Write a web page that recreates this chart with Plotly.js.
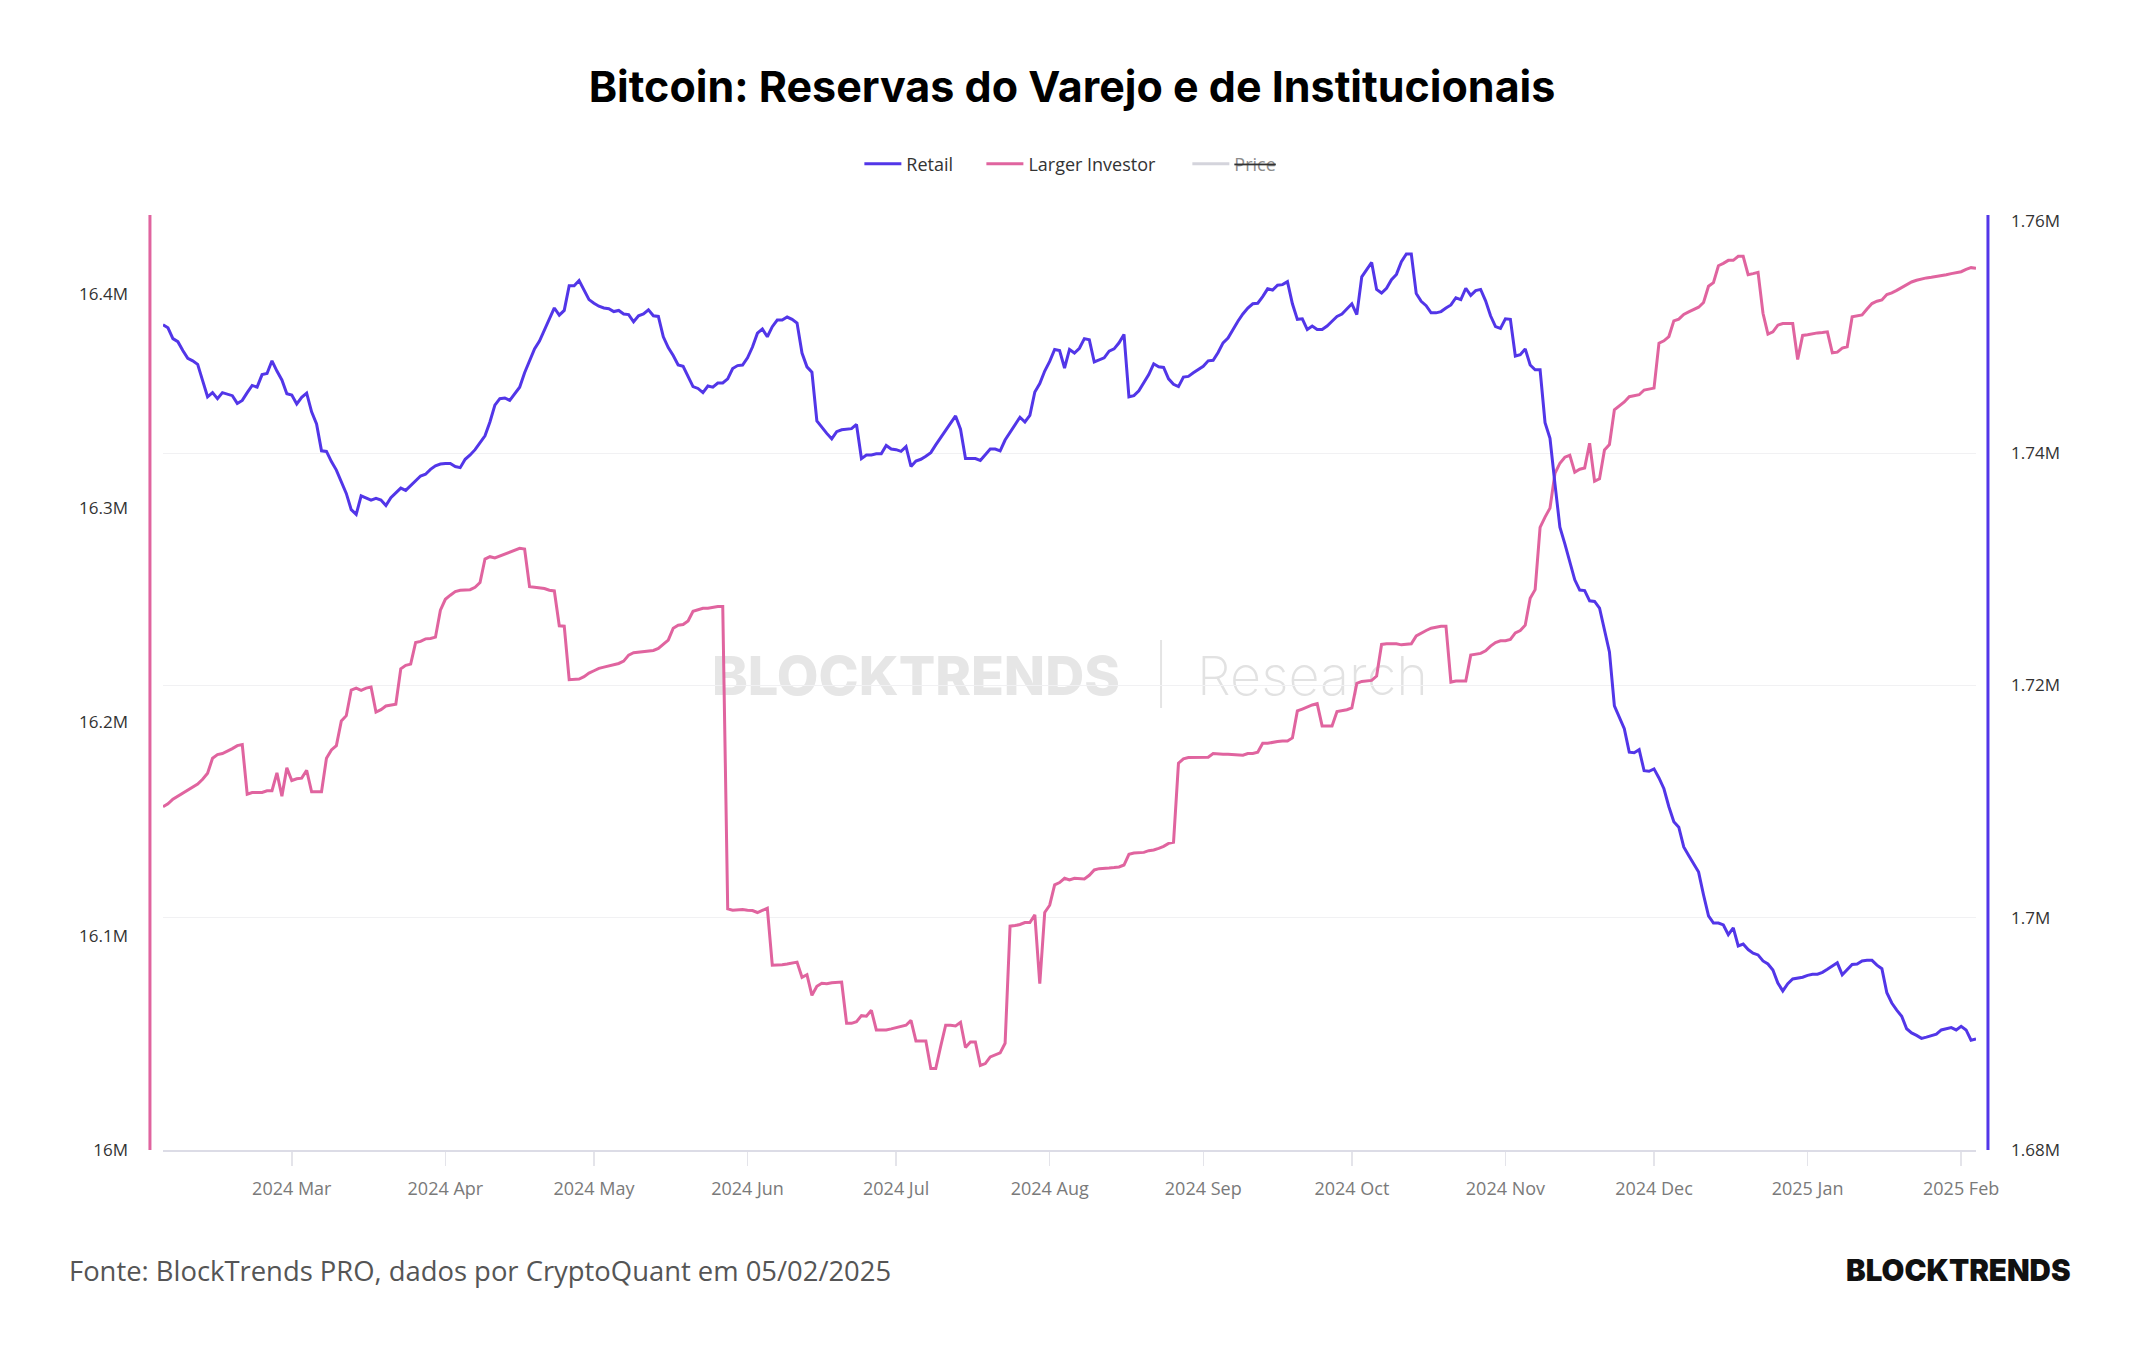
<!DOCTYPE html>
<html>
<head>
<meta charset="utf-8">
<script src="https://cdn.plot.ly/plotly-3.0.1.min.js"></script>
<style>
  html, body { margin: 0; padding: 0; background: #ffffff; }
  #chart { width: 2144px; height: 1350px; }
</style>
</head>
<body>
<div id="chart"></div>
<script>
// Daily series, one value per day starting on the first date below (values in thousands of BTC)
const startDate = '2024-02-04';

const retailK = [
  1751.06, 1750.80, 1749.87, 1749.61, 1748.84, 1748.17, 1747.96, 1747.65, 1746.25, 1744.86,
  1745.22, 1744.70, 1745.22, 1745.12, 1744.96, 1744.29, 1744.55, 1745.22, 1745.84, 1745.69,
  1746.77, 1746.87, 1747.96, 1747.08, 1746.31, 1745.12, 1745.01, 1744.24, 1744.81, 1745.17,
  1743.57, 1742.53, 1740.21, 1740.16, 1739.28, 1738.55, 1737.47, 1736.54, 1735.14, 1734.73,
  1736.33, 1736.12, 1735.97, 1736.12, 1735.97, 1735.50, 1736.18, 1736.59, 1737.00, 1736.80,
  1737.21, 1737.57, 1738.04, 1738.19, 1738.61, 1738.92, 1739.07, 1739.12, 1739.12, 1738.86,
  1738.76, 1739.48, 1739.85, 1740.31, 1740.88, 1741.50, 1742.69, 1744.14, 1744.70, 1744.76,
  1744.55, 1745.07, 1745.69, 1746.93, 1747.96, 1748.99, 1749.66, 1750.59, 1751.63, 1752.51,
  1751.89, 1752.30, 1754.42, 1754.42, 1754.88, 1754.11, 1753.23, 1752.92, 1752.66, 1752.51,
  1752.45, 1752.20, 1752.30, 1751.99, 1751.94, 1751.32, 1751.84, 1751.99, 1752.35, 1751.84,
  1751.78, 1750.03, 1749.10, 1748.42, 1747.60, 1747.49, 1746.67, 1745.74, 1745.58, 1745.22,
  1745.79, 1745.69, 1746.05, 1746.05, 1746.41, 1747.29, 1747.55, 1747.60, 1748.22, 1749.15,
  1750.34, 1750.70, 1750.03, 1750.90, 1751.47, 1751.47, 1751.73, 1751.53, 1751.21, 1748.63,
  1747.44, 1746.98, 1742.79, 1742.22, 1741.71, 1741.24, 1741.86, 1742.02, 1742.07, 1742.12,
  1742.48, 1739.54, 1739.85, 1739.85, 1739.95, 1739.95, 1740.67, 1740.36, 1740.31, 1740.16,
  1740.57, 1738.86, 1739.33, 1739.48, 1739.74, 1740.05, 1740.72, 1741.34, 1741.96, 1742.58,
  1743.21, 1742.07, 1739.54, 1739.54, 1739.54, 1739.38, 1739.90, 1740.36, 1740.36, 1740.21,
  1741.14, 1741.81, 1742.53, 1743.10, 1742.69, 1743.26, 1745.27, 1746.00, 1747.08, 1747.91,
  1748.94, 1748.84, 1747.34, 1748.94, 1748.63, 1749.04, 1749.87, 1749.77, 1747.86, 1748.06,
  1748.22, 1748.79, 1748.99, 1749.51, 1750.23, 1744.86, 1744.96, 1745.38, 1746.10, 1746.77,
  1747.70, 1747.44, 1747.39, 1746.41, 1745.94, 1745.74, 1746.56, 1746.62, 1746.93, 1747.24,
  1747.49, 1747.96, 1748.01, 1748.68, 1749.51, 1749.92, 1750.70, 1751.37, 1751.99, 1752.51,
  1752.87, 1752.92, 1753.49, 1754.16, 1754.06, 1754.47, 1754.52, 1754.78, 1752.87, 1751.53,
  1751.58, 1750.65, 1750.96, 1750.65, 1750.65, 1750.96, 1751.37, 1751.78, 1751.99, 1752.40,
  1752.87, 1751.94, 1755.19, 1755.81, 1756.43, 1754.11, 1753.80, 1754.21, 1754.94, 1755.40,
  1756.49, 1757.16, 1757.16, 1753.75, 1753.08, 1752.71, 1752.09, 1752.09, 1752.20, 1752.51,
  1752.77, 1753.39, 1753.23, 1754.21, 1753.59, 1754.00, 1754.11, 1753.13, 1751.84, 1750.90,
  1750.75, 1751.58, 1751.53, 1748.37, 1748.48, 1748.99, 1747.60, 1747.18, 1747.18, 1742.64,
  1741.29, 1737.36, 1733.64, 1732.20, 1730.54, 1729.10, 1728.22, 1728.17, 1727.29, 1727.24,
  1726.67, 1724.86, 1722.89, 1718.24, 1717.21, 1716.28, 1714.26, 1714.21, 1714.47, 1712.66,
  1712.61, 1712.82, 1712.04, 1711.11, 1709.56, 1708.27, 1707.80, 1706.10, 1705.37, 1704.65,
  1703.93, 1701.96, 1700.16, 1699.54, 1699.54, 1699.38, 1698.55, 1699.12, 1697.57, 1697.73,
  1697.26, 1696.95, 1696.80, 1696.28, 1696.02, 1695.50, 1694.37, 1693.70, 1694.32, 1694.73,
  1694.78, 1694.88, 1695.04, 1695.14, 1695.14, 1695.30, 1695.56, 1695.87, 1696.12, 1695.09,
  1695.50, 1695.97, 1696.02, 1696.28, 1696.33, 1696.33, 1695.92, 1695.61, 1693.54, 1692.66,
  1692.04, 1691.52, 1690.44, 1690.08, 1689.87, 1689.61, 1689.72, 1689.82, 1689.97, 1690.34,
  1690.44, 1690.54, 1690.34, 1690.65, 1690.34, 1689.46, 1689.56
];

const largerInvestorK = [
  16160.4, 16161.8, 16164.0, 16165.4, 16166.8, 16168.5, 16169.9, 16171.0, 16173.3, 16176.1,
  16183.1, 16184.8, 16185.3, 16186.4, 16187.6, 16189.0, 16189.5, 16166.3, 16167.1, 16167.1,
  16167.1, 16167.9, 16167.9, 16176.3, 16165.4, 16178.6, 16172.7, 16173.5, 16173.8, 16177.5,
  16167.4, 16167.4, 16167.4, 16183.1, 16187.0, 16189.0, 16200.5, 16203.0, 16215.0, 16215.9,
  16214.8, 16215.9, 16216.4, 16204.7, 16205.8, 16207.5, 16208.0, 16208.3, 16224.9, 16226.5,
  16227.1, 16237.2, 16237.7, 16238.9, 16239.1, 16239.7, 16252.3, 16257.4, 16259.3, 16261.0,
  16261.6, 16261.6, 16261.9, 16263.0, 16265.2, 16276.2, 16277.3, 16276.7, 16277.6, 16278.4,
  16279.5, 16280.4, 16281.2, 16280.9, 16263.3, 16263.0, 16262.7, 16262.4, 16261.6, 16261.3,
  16245.0, 16244.8, 16219.8, 16219.8, 16220.1, 16221.2, 16222.9, 16224.0, 16225.1, 16225.7,
  16226.3, 16227.1, 16227.4, 16228.5, 16231.3, 16232.4, 16232.7, 16232.7, 16233.0, 16233.5,
  16234.4, 16236.3, 16238.3, 16243.9, 16245.3, 16245.6, 16247.3, 16251.8, 16252.6, 16253.2,
  16253.2, 16253.7, 16254.0, 16254.0, 16112.7, 16112.1, 16112.4, 16112.4, 16112.1, 16111.9,
  16111.0, 16111.9, 16113.0, 16086.4, 16086.4, 16086.6, 16086.9, 16087.2, 16087.8, 16080.7,
  16081.9, 16072.3, 16076.5, 16077.9, 16077.7, 16078.2, 16078.5, 16078.5, 16059.2, 16059.2,
  16060.0, 16062.8, 16062.5, 16065.3, 16056.1, 16056.1, 16056.1, 16056.6, 16057.2, 16058.0,
  16058.3, 16060.6, 16051.0, 16051.0, 16051.0, 16038.1, 16038.1, 16048.5, 16058.3, 16058.3,
  16058.0, 16059.7, 16047.9, 16050.5, 16050.5, 16039.5, 16040.4, 16043.5, 16044.3, 16045.4,
  16049.9, 16104.6, 16104.9, 16105.4, 16106.3, 16106.3, 16109.9, 16077.7, 16111.0, 16114.4,
  16123.9, 16125.0, 16127.0, 16126.2, 16127.0, 16126.7, 16126.7, 16128.4, 16130.9, 16131.5,
  16131.5, 16131.8, 16132.0, 16132.3, 16133.2, 16138.2, 16138.8, 16139.1, 16139.1, 16139.9,
  16140.2, 16141.0, 16141.9, 16143.3, 16143.8, 16180.8, 16182.8, 16183.4, 16183.4, 16183.4,
  16183.4, 16183.6, 16185.3, 16185.0, 16185.0, 16185.0, 16184.8, 16184.8, 16184.5, 16185.3,
  16185.3, 16185.9, 16190.1, 16190.1, 16190.6, 16190.9, 16191.2, 16191.2, 16192.6, 16205.2,
  16206.1, 16207.2, 16208.0, 16208.6, 16198.2, 16198.2, 16198.2, 16204.9, 16205.2, 16205.8,
  16206.6, 16218.1, 16219.0, 16219.2, 16219.5, 16221.5, 16236.3, 16236.6, 16236.6, 16236.6,
  16236.1, 16236.3, 16236.6, 16240.3, 16241.7, 16242.8, 16243.9, 16244.5, 16244.8, 16244.8,
  16218.7, 16219.2, 16219.2, 16219.2, 16231.3, 16231.6, 16232.1, 16233.3, 16235.5, 16237.2,
  16238.0, 16238.0, 16238.6, 16241.7, 16242.8, 16245.3, 16257.9, 16261.9, 16291.0, 16295.8,
  16300.0, 16316.2, 16321.0, 16323.8, 16324.7, 16316.8, 16318.2, 16318.8, 16330.3, 16312.6,
  16313.7, 16327.2, 16329.7, 16346.0, 16347.6, 16349.6, 16352.1, 16352.7, 16353.0, 16355.2,
  16355.8, 16356.1, 16377.1, 16378.2, 16380.2, 16387.5, 16388.3, 16390.5, 16391.7, 16392.8,
  16393.9, 16396.1, 16403.7, 16405.4, 16413.3, 16414.4, 16415.8, 16415.8, 16417.7, 16417.7,
  16409.1, 16409.6, 16410.2, 16391.1, 16381.3, 16382.4, 16385.5, 16386.3, 16386.3, 16386.3,
  16369.5, 16380.7, 16381.0, 16381.6, 16381.9, 16382.1, 16382.4, 16372.6, 16372.9, 16374.8,
  16375.4, 16389.4, 16390.0, 16390.3, 16393.1, 16395.6, 16396.7, 16397.3, 16399.8, 16400.6,
  16401.8, 16403.2, 16404.6, 16405.7, 16406.5, 16407.1, 16407.6, 16407.9, 16408.2, 16408.5,
  16409.1, 16409.6, 16409.9, 16410.5, 16411.6, 16412.4, 16412.1
];

// Price series is switched off: its legend entry is kept, nothing is plotted
const priceValues = [null];

const seriesNames = ['Retail', 'Larger Investor', 'Price'];
const retailColor = '#5236E8';
const largerColor = '#E0649F';
const priceColor = '#d4d4dc';

// Date axis for the daily values
function dailyDates(start, count) {
  const t0 = Date.parse(start + 'T00:00:00Z');
  const out = [];
  for (let i = 0; i < count; i++) {
    out.push(new Date(t0 + i * 86400000).toISOString().slice(0, 10));
  }
  return out;
}
const dates = dailyDates(startDate, retailK.length);

const traces = [
  {
    name: seriesNames[0],
    legend: 'legend',
    x: dates,
    y: retailK.map(v => v * 1000),
    yaxis: 'y2',
    type: 'scatter',
    mode: 'lines',
    line: { color: retailColor, width: 3 },
    hoverinfo: 'skip'
  },
  {
    name: seriesNames[1],
    legend: 'legend2',
    x: dates,
    y: largerInvestorK.map(v => v * 1000),
    yaxis: 'y',
    type: 'scatter',
    mode: 'lines',
    line: { color: largerColor, width: 3 },
    hoverinfo: 'skip'
  },
  {
    name: '<s><span style="color:#8c8c8c">' + seriesNames[2] + '</span></s>',
    legend: 'legend3',
    x: priceValues.map((_, i) => dates[i]),
    y: priceValues,
    yaxis: 'y',
    type: 'scatter',
    mode: 'lines',
    line: { color: priceColor, width: 3 },
    hoverinfo: 'skip'
  }
];

const tickFont = { family: 'Open Sans', size: 17, color: '#333333' };

function legendAt(x) {
  return {
    orientation: 'h',
    x: x,
    xanchor: 'left',
    y: 1.0613,
    yanchor: 'middle',
    itemwidth: 37,
    font: { family: 'Open Sans', size: 18, color: '#333333' },
    bgcolor: 'rgba(0,0,0,0)'
  };
}

const layout = {
  width: 2144,
  height: 1350,
  margin: { l: 163, r: 168, t: 221, b: 200 },
  paper_bgcolor: '#ffffff',
  plot_bgcolor: '#ffffff',
  font: { family: 'Open Sans', color: '#333333' },
  title: {
    text: 'Bitcoin: Reservas do Varejo e de Institucionais',
    x: 0.5,
    xanchor: 'center',
    y: 1 - 87 / 1350,
    yanchor: 'middle',
    font: { family: 'Inter', size: 43, weight: 700, color: '#000000' }
  },
  showlegend: true,
  legend: legendAt(0.3841),
  legend2: legendAt(0.4514),
  legend3: legendAt(0.5650),
  xaxis: {
    type: 'date',
    range: ['2024-02-04', '2025-02-04'],
    tick0: '2024-01-01',
    dtick: 'M1',
    tickformat: '%Y %b',
    showgrid: false,
    zeroline: false,
    showline: true,
    linecolor: '#dcdce6',
    linewidth: 2,
    ticks: 'outside',
    ticklen: 14,
    tickwidth: 1.5,
    tickcolor: '#e4e4ea',
    ticklabelstandoff: 7,
    tickfont: { family: 'Open Sans', size: 18, color: '#7a7a7a' },
    fixedrange: true
  },
  yaxis: {
    range: [16000000, 16434200],
    dtick: 100000,
    tick0: 16000000,
    tickformat: '~s',
    showgrid: false,
    zeroline: false,
    showline: false,
    ticks: '',
    ticklabelstandoff: 34,
    tickfont: tickFont,
    fixedrange: true
  },
  yaxis2: {
    overlaying: 'y',
    side: 'right',
    range: [1680000, 1760000],
    dtick: 20000,
    tick0: 1680000,
    tickformat: '~s',
    showgrid: true,
    gridcolor: '#f1f1f3',
    gridwidth: 1,
    zeroline: false,
    showline: false,
    ticks: '',
    ticklabelstandoff: 34,
    tickfont: tickFont,
    fixedrange: true
  },
  shapes: [
    // axis bars drawn just outside the plot area
    { type: 'line', xref: 'paper', yref: 'paper', x0: -0.0072, x1: -0.0072, y0: 0, y1: 1.0065,
      line: { color: largerColor, width: 3 } },
    { type: 'line', xref: 'paper', yref: 'paper', x0: 1.0066, x1: 1.0066, y0: 0, y1: 1.0065,
      line: { color: retailColor, width: 3 } },
    // watermark
    { type: 'rect', xref: 'paper', yref: 'paper', x0: 0.33, x1: 0.5006, y0: 0.48, y1: 0.545,
      layer: 'between', line: { width: 0 }, fillcolor: 'rgba(0,0,0,0)',
      label: { text: 'BLOCKTRENDS', textposition: 'middle center',
               font: { family: 'Inter', size: 54, weight: 800, color: '#e6e6e6' } } },
    { type: 'line', xref: 'paper', yref: 'paper', x0: 0.5505, x1: 0.5505, y0: 0.4758, y1: 0.549,
      layer: 'between', line: { color: '#e4e4e4', width: 2 } },
    { type: 'rect', xref: 'paper', yref: 'paper', x0: 0.58, x1: 0.688, y0: 0.48, y1: 0.545,
      layer: 'between', line: { width: 0 }, fillcolor: 'rgba(0,0,0,0)',
      label: { text: 'Research', textposition: 'middle center',
               font: { family: 'Inter', size: 54, weight: 200, color: '#e2e2e2' } } }
  ],
  annotations: [
    { xref: 'paper', yref: 'paper', x: -0.0530, y: -0.1292, xanchor: 'left', yanchor: 'middle',
      showarrow: false, text: 'Fonte: BlockTrends PRO, dados por CryptoQuant em 05/02/2025',
      font: { family: 'Open Sans', size: 27.4, color: '#555555' } },
    { xref: 'paper', yref: 'paper', x: 1.0535, y: -0.1292, xanchor: 'right', yanchor: 'middle',
      showarrow: false, text: 'BLOCKTRENDS',
      font: { family: 'Inter', size: 29.5, weight: 900, color: '#111111' } }
  ]
};

Plotly.newPlot('chart', traces, layout, { displayModeBar: false, staticPlot: true });
</script>
</body>
</html>
